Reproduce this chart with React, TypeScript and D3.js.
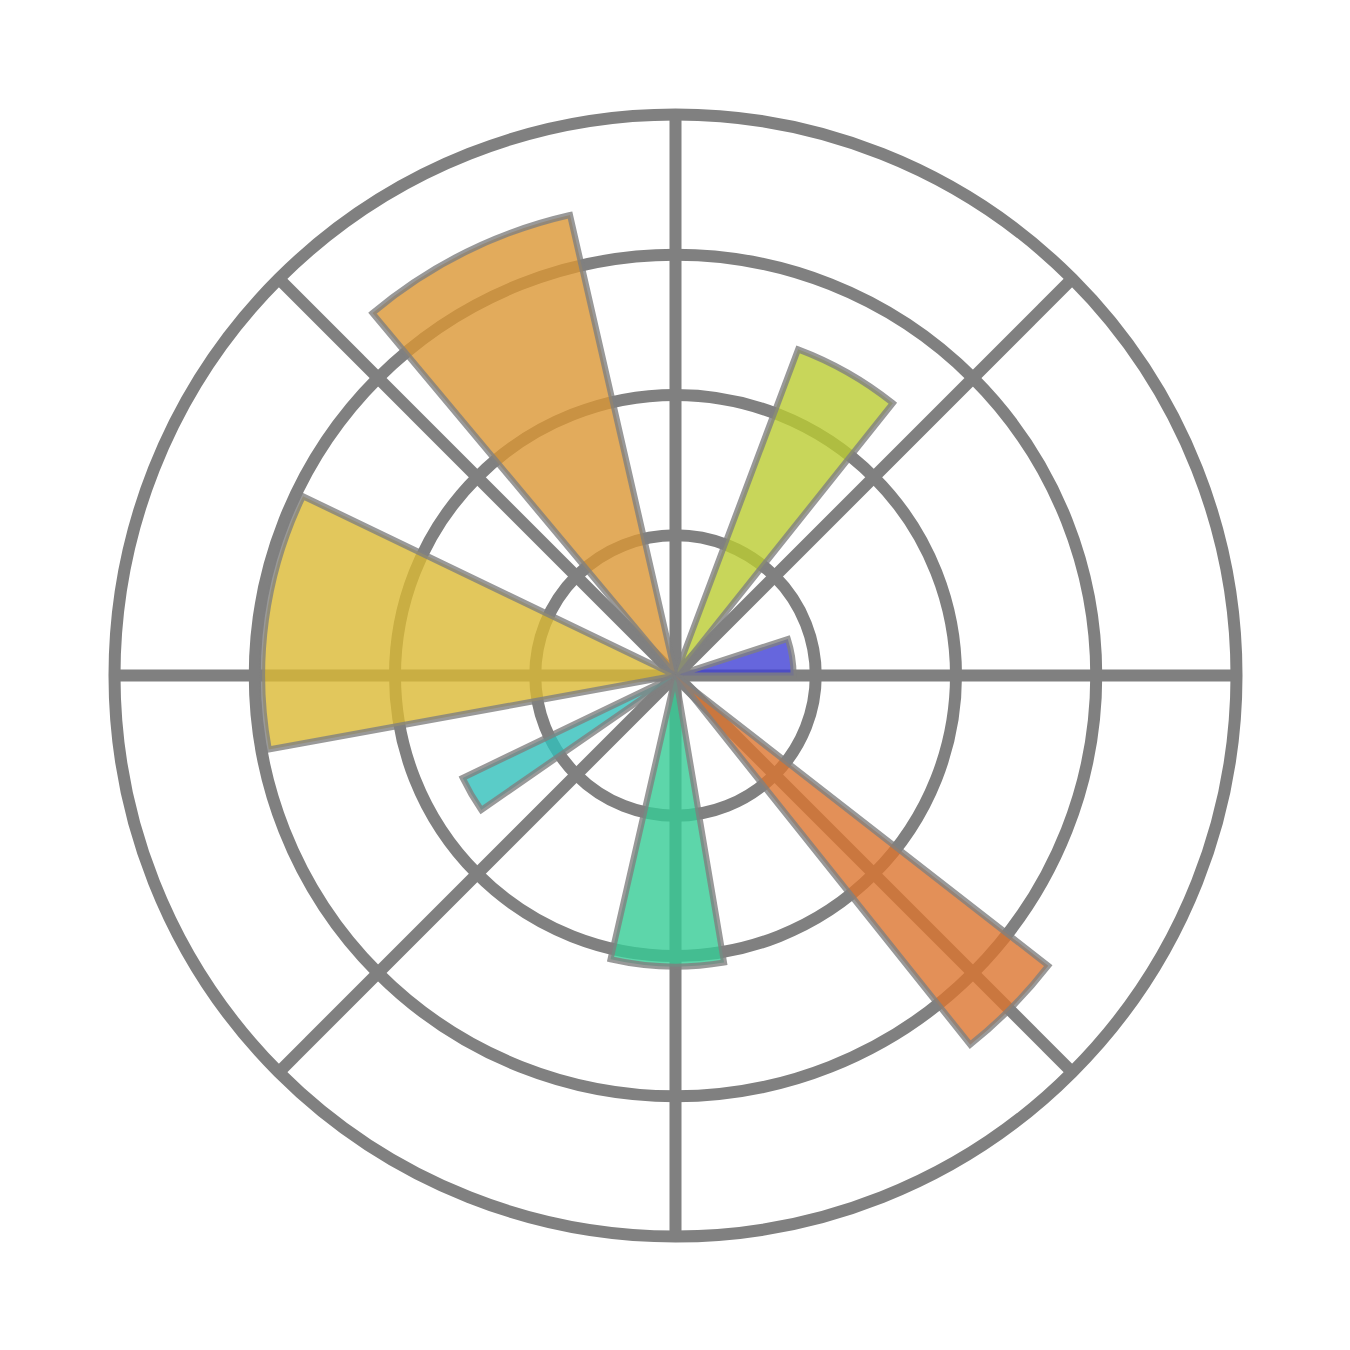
import React, { useEffect, useRef } from 'react';
import * as d3 from 'd3';

// Bar data (angles in degrees, counter-clockwise from east, bars start at theta)
const thetas = [0, 51.4, 102.9, 154.3, 205.7, 257.1, 308.6];
const widths = [18, 18, 27, 36, 9, 22.5, 13.5];
const radii = [2, 5.9, 8, 7, 4, 4.93, 8];
const barColors = ['#4040d4', '#bacc31', '#db9633', '#dbb933', '#31bfba', '#34cc95', '#dc742e'];

// Grid
const rTicks = [2.375, 4.75, 7.125, 9.5];
const thetaTicks = [0, 45, 90, 135, 180, 225, 270, 315];
const rMax = 9.5;

const App: React.FC = () => {
  const svgRef = useRef<SVGSVGElement>(null);

  useEffect(() => {
    if (!svgRef.current) return;
    const svg = d3.select(svgRef.current);
    svg.selectAll('*').remove();

    const cx = 675.5;
    const cy = 675.5;
    const outer = 561;

    const r = d3.scaleLinear().domain([0, rMax]).range([0, outer]);
    const rad = (deg: number) => (deg * Math.PI) / 180;

    const g = svg.append('g').attr('transform', `translate(${cx},${cy})`);

    // grid below the bars
    const grid = g.append('g')
      .attr('fill', 'none')
      .attr('stroke', '#808080')
      .attr('stroke-width', 12);

    grid.selectAll('line')
      .data(thetaTicks)
      .enter()
      .append('line')
      .attr('x1', 0)
      .attr('y1', 0)
      .attr('x2', d => r(rMax) * Math.cos(rad(d)))
      .attr('y2', d => -r(rMax) * Math.sin(rad(d)));

    grid.selectAll('circle')
      .data(rTicks)
      .enter()
      .append('circle')
      .attr('r', d => r(d));

    // bars: d3.arc measures clockwise from north, so flip the angles
    const arc = d3.arc<number>()
      .innerRadius(0)
      .outerRadius(i => r(radii[i]))
      .startAngle(i => Math.PI / 2 - rad(thetas[i] + widths[i]))
      .endAngle(i => Math.PI / 2 - rad(thetas[i]));

    g.append('g')
      .selectAll('path')
      .data(d3.range(thetas.length))
      .enter()
      .append('path')
      .attr('d', i => arc(i) as string)
      .attr('fill', i => barColors[i])
      .attr('fill-opacity', 0.8)
      .attr('stroke', '#808080')
      .attr('stroke-opacity', 0.8)
      .attr('stroke-width', 6)
      .attr('stroke-linejoin', 'miter');
  }, []);

  return (
    <svg
      ref={svgRef}
      width={1350}
      height={1350}
      style={{ position: 'absolute', left: 0, top: 0, background: '#ffffff' }}
    />
  );
};

export default App;
